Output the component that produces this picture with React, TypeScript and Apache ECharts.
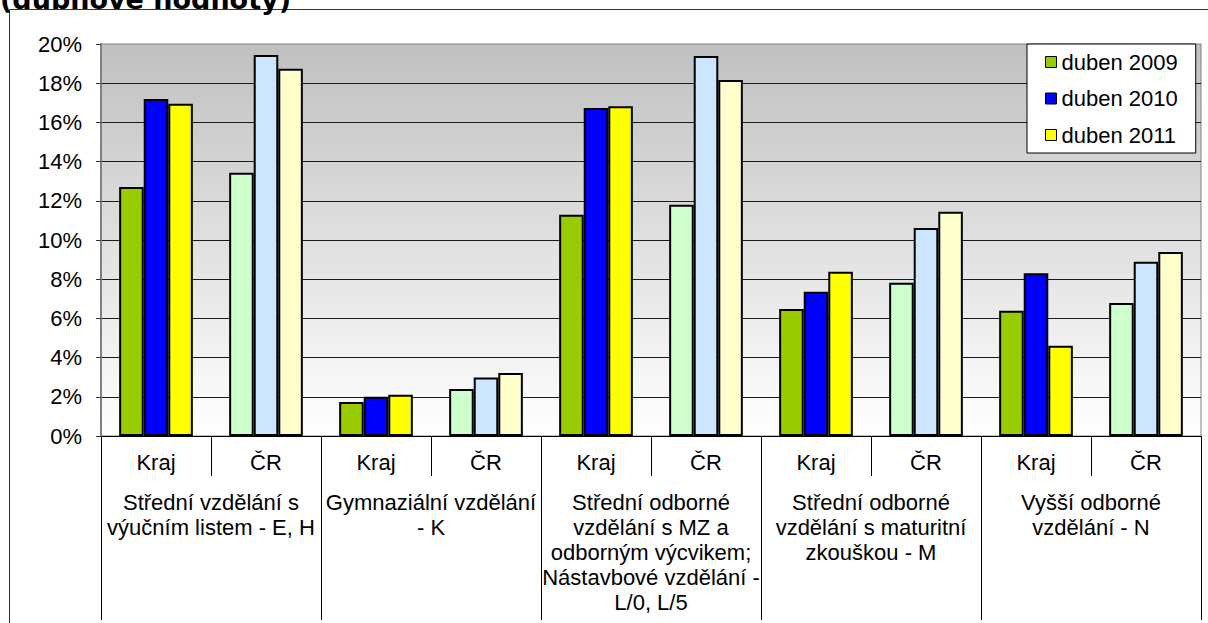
import React, { useEffect, useRef } from "react";
import * as echarts from "echarts";

const titleText = "(dubnové hodnoty)";
const subCategories = ["Kraj", "ČR", "Kraj", "ČR", "Kraj", "ČR", "Kraj", "ČR", "Kraj", "ČR"];
const groupLabels = [
  "Střední vzdělání s\nvýučním listem - E, H",
  "Gymnaziální vzdělání\n- K",
  "Střední odborné\nvzdělání s MZ a\nodborným výcvikem;\nNástavbové vzdělání -\nL/0, L/5",
  "Střední odborné\nvzdělání s maturitní\nzkouškou - M",
  "Vyšší odborné\nvzdělání - N",
];
const seriesNames = ["duben 2009", "duben 2010", "duben 2011"];
const values2009 = [12.7, 13.43, 1.73, 2.4, 11.29, 11.8, 6.48, 7.82, 6.39, 6.79];
const values2010 = [17.2, 19.44, 2.0, 2.98, 16.73, 19.39, 7.36, 10.61, 8.3, 8.89];
const values2011 = [16.95, 18.74, 2.1, 3.21, 16.82, 18.16, 8.38, 11.44, 4.61, 9.39];
const yTicks = [0, 2, 4, 6, 8, 10, 12, 14, 16, 18, 20];

const krajColors = ["#99cc00", "#0000ff", "#ffff00"];
const crColors = ["#ccffcc", "#cce6ff", "#ffffcc"];
const FONT = "Liberation Sans, Arial, sans-serif";
const FS = 22;

export default function App() {
  const ref = useRef<HTMLDivElement>(null);
  useEffect(() => {
    if (!ref.current) return;
    const chart = echarts.init(ref.current, undefined, { renderer: "svg" });
    const allValues = [values2009, values2010, values2011];
    const series = allValues.map((vals, si) => ({
      name: seriesNames[si],
      type: "bar",
      xAxisIndex: 0,
      barGap: "0%",
      barCategoryGap: "33%",
      itemStyle: { color: krajColors[si], borderColor: "#000", borderWidth: 2 },
      data: vals.map((v, i) => ({
        value: v,
        itemStyle: { color: i % 2 === 0 ? krajColors[si] : crColors[si], borderColor: "#000", borderWidth: 2 },
      })),
    }));
    chart.setOption({
      animation: false,
      backgroundColor: "#fff",
      textStyle: { fontFamily: FONT },
      graphic: [
        {
          type: "rect",
          shape: { x: 9.5, y: 9.5, width: 1400, height: 800 },
          style: { fill: "none", stroke: "#333", lineWidth: 1 },
          silent: true,
        },
        {
          type: "text",
          x: 0,
          y: 13,
          style: {
            text: titleText,
            font: "bold 27px DejaVu Sans",
            fill: "#000",
            verticalAlign: "bottom",
          },
        },
      ],
      legend: {
        orient: "vertical",
        left: 1027,
        top: 44,
        padding: [7, 18, 7, 18],
        itemGap: 14.5,
        itemWidth: 11,
        itemHeight: 11,
        icon: "rect",
        backgroundColor: "#fff",
        borderColor: "#000",
        borderWidth: 1,
        borderRadius: 0,
        itemStyle: { borderColor: "#000", borderWidth: 1 },
        textStyle: { fontSize: FS, lineHeight: 22, color: "#000", fontFamily: FONT },
        data: seriesNames,
      },
      grid: {
        left: 101,
        right: 7,
        top: 44,
        bottom: 187,
        show: true,
        borderColor: "#808080",
        borderWidth: 1,
        backgroundColor: {
          type: "linear",
          x: 0,
          y: 0,
          x2: 0,
          y2: 1,
          colorStops: [
            { offset: 0, color: "#c0c0c0" },
            { offset: 1, color: "#ffffff" },
          ],
        },
      },
      xAxis: [
        {
          type: "category",
          position: "bottom",
          data: subCategories,
          axisLine: { show: true, lineStyle: { color: "#000", width: 1 } },
          axisTick: { show: true, length: 40, interval: 0, lineStyle: { color: "#000" } },
          axisLabel: { interval: 0, margin: 14, fontSize: FS, lineHeight: 25, color: "#000", fontFamily: FONT },
        },
        {
          type: "category",
          position: "bottom",
          data: groupLabels,
          axisLine: { show: false },
          axisTick: { show: true, length: 184, interval: 0, lineStyle: { color: "#000" } },
          axisLabel: { interval: 0, margin: 54, fontSize: FS, lineHeight: 25, color: "#000", fontFamily: FONT, align: "center" },
        },
      ],
      yAxis: {
        type: "value",
        min: yTicks[0],
        max: yTicks[yTicks.length - 1],
        interval: 2,
        axisLine: { show: true, lineStyle: { color: "#808080", width: 2 } },
        axisTick: { show: true, length: 5, lineStyle: { color: "#333" } },
        axisLabel: { formatter: "{value}%", margin: 19, fontSize: FS, color: "#000", fontFamily: FONT },
        splitLine: { show: true, showMaxLine: false, lineStyle: { color: "#1a1a1a", width: 1 } },
      },
      series,
    });
    return () => chart.dispose();
  }, []);
  return (
    <div
      ref={ref}
      style={{ position: "fixed", left: 0, top: 0, width: 1208, height: 623, background: "#fff" }}
    />
  );
}
